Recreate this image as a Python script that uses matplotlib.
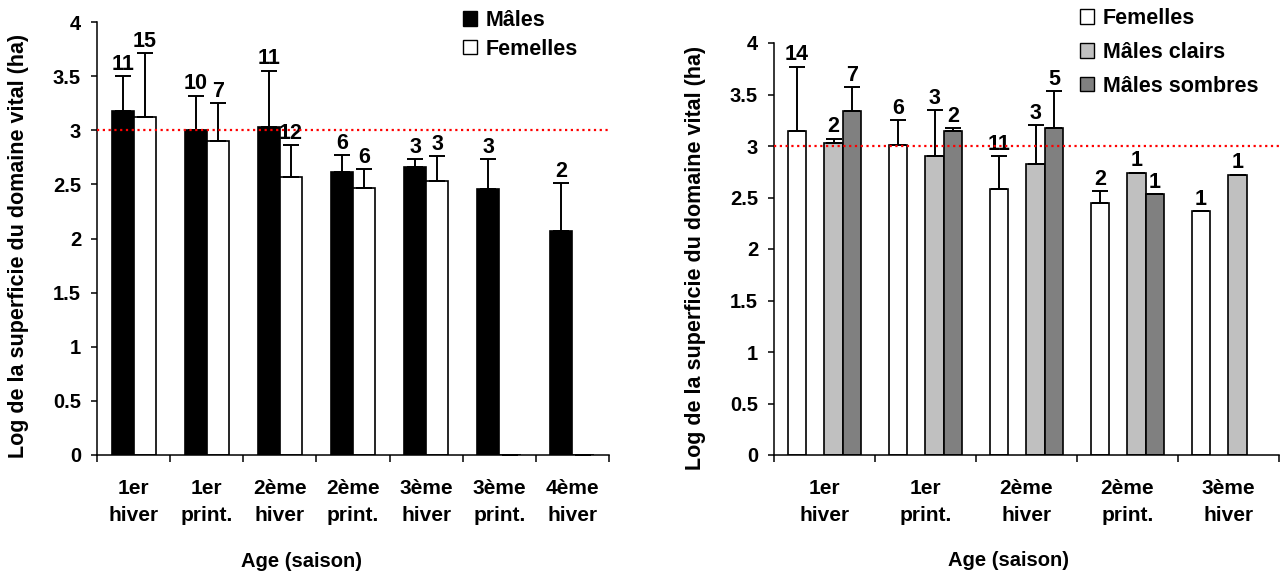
import numpy as np
import matplotlib
matplotlib.use('Agg')
import matplotlib.pyplot as plt
from matplotlib.patches import Patch

plt.rcParams['font.family'] = ['Liberation Sans', 'DejaVu Sans']
plt.rcParams['font.weight'] = 'bold'

# --- left chart: males vs females
ages_left = ['1er\nhiver', '1er\nprint.', '2ème\nhiver', '2ème\nprint.',
             '3ème\nhiver', '3ème\nprint.', '4ème\nhiver']
males = [3.18, 3.00, 3.03, 2.61, 2.66, 2.46, 2.07]
males_err = [0.32, 0.32, 0.52, 0.16, 0.07, 0.27, 0.44]
males_n = ['11', '10', '11', '6', '3', '3', '2']
femelles = [3.12, 2.90, 2.57, 2.47, 2.53, 0, 0]
femelles_err = [0.59, 0.35, 0.29, 0.17, 0.23, np.nan, np.nan]
femelles_n = ['15', '7', '12', '6', '3', '', '']

# --- right chart: females, light males, dark males
ages_right = ['1er\nhiver', '1er\nprint.', '2ème\nhiver', '2ème\nprint.', '3ème\nhiver']
fem_r = [3.15, 3.01, 2.58, 2.45, 2.37]
fem_r_err = [0.62, 0.24, 0.32, 0.11, 0.0]
fem_r_n = ['14', '6', '11', '2', '1']
clairs = [3.03, 2.90, 2.83, 2.74, 2.72]
clairs_err = [0.04, 0.45, 0.37, 0.0, 0.0]
clairs_n = ['2', '3', '3', '1', '1']
sombres = [3.34, 3.15, 3.17, 2.53, np.nan]
sombres_err = [0.23, 0.02, 0.36, 0.0, np.nan]
sombres_n = ['7', '2', '5', '1', '']

ylabel = 'Log de la superficie du domaine vital (ha)'
xlabel = 'Age (saison)'


def draw_series(ax, x, vals, err, labels, color, width):
    vals = np.array(vals, dtype=float)
    err = np.array(err, dtype=float)
    ax.bar(x, vals, width, color=color, edgecolor='black', linewidth=1.2, zorder=2)
    ax.errorbar(x, vals, yerr=[np.zeros(len(err)), err], fmt='none', ecolor='black',
                elinewidth=1.4, capsize=6, capthick=1.4, zorder=3)
    for xi, v, e, t in zip(x, vals, err, labels):
        if not t:
            continue
        top = v + (0 if np.isnan(e) else e)
        ax.annotate(t, (xi, top), xytext=(0, 1), textcoords='offset points',
                    ha='center', va='bottom', fontsize=15.5, fontweight='bold')


def style_axes(ax, cats):
    n = len(cats)
    ax.set_xlim(-0.5, n - 0.5)
    ax.set_ylim(0, 4)
    ax.spines['top'].set_visible(False)
    ax.spines['right'].set_visible(False)
    for s in ('left', 'bottom'):
        ax.spines[s].set_linewidth(1.1)
    ax.set_xticks(np.arange(-0.5, n, 1))
    ax.set_xticklabels([])
    ax.set_xticks(np.arange(n), minor=True)
    ax.set_xticklabels(cats, minor=True, fontsize=15, fontweight='bold', linespacing=1.55)
    ax.tick_params(axis='x', which='major', length=5, width=1.1, direction='out')
    ax.tick_params(axis='x', which='minor', length=0, pad=17)
    yt = np.arange(0, 4.01, 0.5)
    ax.set_yticks(yt)
    ax.set_yticklabels([f'{v:g}' for v in yt], fontsize=14.5, fontweight='bold')
    ax.tick_params(axis='y', length=4.5, width=1.1, pad=7)
    ax.axhline(3, color='red', linestyle=(0, (1, 1.6)), linewidth=1.6, zorder=4)
    ax.set_ylabel(ylabel, fontsize=15.5, fontweight='bold')
    ax.set_xlabel(xlabel, fontsize=14.5, fontweight='bold')


fig = plt.figure(figsize=(12.83, 5.78), dpi=100)

ax1 = fig.add_axes([97 / 1283, 123 / 578, 512 / 1283, 433 / 578])
x1 = np.arange(len(ages_left))
w1 = 0.30
draw_series(ax1, x1 - w1 / 2, males, males_err, males_n, 'black', w1)
draw_series(ax1, x1 + w1 / 2, femelles, femelles_err, femelles_n, 'white', w1)
style_axes(ax1, ages_left)
ax1.yaxis.set_label_coords(-0.133, 0.483)
ax1.xaxis.set_label_coords(0.40, -0.245)
ax1.xaxis.label.set_va('center')

ax2 = fig.add_axes([774 / 1283, 123 / 578, 505 / 1283, 412 / 578])
x2 = np.arange(len(ages_right))
w2 = 0.182
draw_series(ax2, x2 - 1.5 * w2, fem_r, fem_r_err, fem_r_n, 'white', w2)
draw_series(ax2, x2 + 0.5 * w2, clairs, clairs_err, clairs_n, '#c0c0c0', w2)
draw_series(ax2, x2 + 1.5 * w2, sombres, sombres_err, sombres_n, '#808080', w2)
style_axes(ax2, ages_right)
ax2.yaxis.set_label_coords(-0.135, 0.478)
ax2.xaxis.set_label_coords(0.465, -0.257)
ax2.xaxis.label.set_va('center')

leg_kw = dict(loc='upper left', frameon=False, handlelength=0.65, handleheight=0.65,
              handletextpad=0.4, borderaxespad=0, borderpad=0,
              prop={'size': 15.5, 'weight': 'bold'})
fig.legend(handles=[Patch(facecolor='black', edgecolor='black', label='Mâles'),
                    Patch(facecolor='white', edgecolor='black', label='Femelles')],
           bbox_to_anchor=(463 / 1283, 1 - 10 / 578), labelspacing=0.35, **leg_kw)
fig.legend(handles=[Patch(facecolor='white', edgecolor='black', label='Femelles'),
                    Patch(facecolor='#c0c0c0', edgecolor='black', label='Mâles clairs'),
                    Patch(facecolor='#808080', edgecolor='black', label='Mâles sombres')],
           bbox_to_anchor=(1080 / 1283, 1 - 8 / 578), labelspacing=0.6, **leg_kw)

fig.savefig('out.png', dpi=100)
